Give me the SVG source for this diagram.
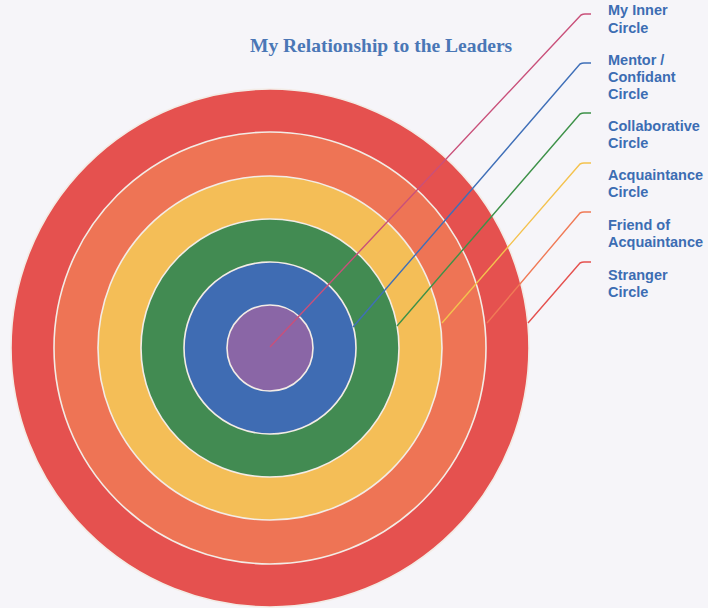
<svg xmlns="http://www.w3.org/2000/svg" width="708" height="608" viewBox="0 0 708 608">
<style>
.ring{stroke:#f3ece6;stroke-width:1.6}
.lbl{font-family:"Liberation Sans",Arial,sans-serif;font-weight:bold;font-size:14.5px;fill:#3c6db3}
.title{font-family:"Liberation Serif","Times New Roman",serif;font-weight:bold;font-size:19.5px;fill:#4a77b6}
.ln{fill:none;stroke-width:1.4;stroke-linejoin:round}
</style>
<rect width="708" height="608" fill="#f6f5f9"/>
<text class="title" x="250" y="52">My Relationship to the Leaders</text>
<g id="stranger"><circle class="ring" cx="270" cy="348" r="259" fill="#e5514f"/></g>
<g id="friend"><circle class="ring" cx="270" cy="348" r="216" fill="#ee7455"/></g>
<g id="acquaintance"><circle class="ring" cx="270" cy="348" r="172" fill="#f4be57"/></g>
<g id="collaborative"><circle class="ring" cx="270" cy="348" r="129" fill="#428b52"/></g>
<g id="mentor"><circle class="ring" cx="270" cy="348" r="86" fill="#3f6cb3"/></g>
<g id="inner"><circle class="ring" cx="270" cy="348" r="43" fill="#8a66a6"/></g>
<g id="connectors">
<path class="ln" stroke="#c9507a" d="M270,347 L581,15 Q583,14 585,14 L591,14"/>
<path class="ln" stroke="#3f6fb8" d="M353,327 L580,64 Q582,63 584,63 L591,63"/>
<path class="ln" stroke="#3d9148" d="M397,326 L580,114 Q582,113 584,113 L591,113"/>
<path class="ln" stroke="#f4c24e" d="M442,323 L580,164 Q582,163 584,163 L591,163"/>
<path class="ln" stroke="#f07a56" d="M487,323 L580,213 Q582,212 584,212 L591,212"/>
<path class="ln" stroke="#e5514f" d="M528,323 L580,263 Q582,262 584,262 L591,262"/>
</g>
<g id="labels">
<text class="lbl" x="608" y="15">My Inner</text>
<text class="lbl" x="608" y="33">Circle</text>
<text class="lbl" x="608" y="65">Mentor /</text>
<text class="lbl" x="608" y="82">Confidant</text>
<text class="lbl" x="608" y="99">Circle</text>
<text class="lbl" x="608" y="131">Collaborative</text>
<text class="lbl" x="608" y="148">Circle</text>
<text class="lbl" x="608" y="180">Acquaintance</text>
<text class="lbl" x="608" y="197">Circle</text>
<text class="lbl" x="608" y="230">Friend of</text>
<text class="lbl" x="608" y="247">Acquaintance</text>
<text class="lbl" x="608" y="280">Stranger</text>
<text class="lbl" x="608" y="297">Circle</text>
</g>
</svg>
